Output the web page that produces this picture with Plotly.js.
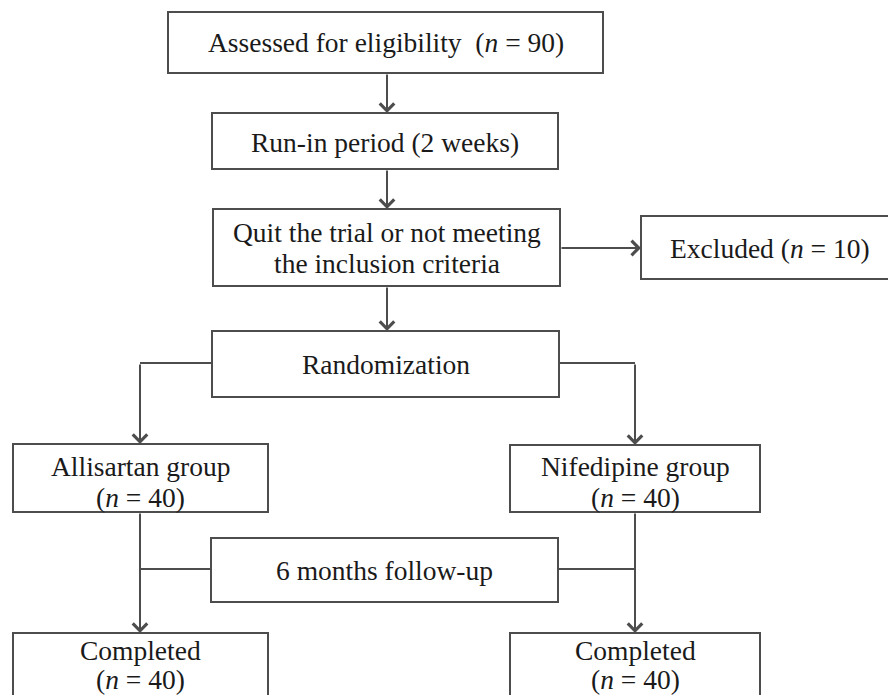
<!DOCTYPE html>
<html><head><meta charset="utf-8">
<script src="https://cdn.plot.ly/plotly-3.0.1.min.js"></script>
<style>html,body{margin:0;padding:0;background:#fff}#chart{width:888px;height:695px}</style>
</head><body><div id="chart"></div><script>
// ---- data ----
const stepLabels = [
  "Assessed for eligibility",
  "Run-in period (2 weeks)",
  "Quit the trial or not meeting\nthe inclusion criteria",
  "Excluded",
  "Randomization",
  "Allisartan group",
  "Nifedipine group",
  "6 months follow-up",
  "Completed",
  "Completed"
];
const stepCounts = [90, null, null, 10, null, 40, 40, null, 40, 40];

// ---- layout (positions in pixel-like data units) ----
const boxGeom = [
  {x0:168, x1:603, y0:12,  y1:73,  ly:[42],       sep:"  ", inline:true},
  {x0:212, x1:558, y0:113, y1:169, ly:[142]},
  {x0:213, x1:560, y0:209, y1:286, ly:[232,263]},
  {x0:641, x1:905, y0:216, y1:279, ly:[248],      sep:" ", inline:true},
  {x0:212, x1:559, y0:331, y1:397, ly:[364]},
  {x0:13,  x1:268, y0:444, y1:512, ly:[466,497]},
  {x0:510, x1:760, y0:445, y1:512, ly:[466,497]},
  {x0:211, x1:558, y0:538, y1:602, ly:[570]},
  {x0:13,  x1:268, y0:633, y1:730, ly:[650,679]},
  {x0:510, x1:760, y0:633, y1:730, ly:[650,679]}
];
const arrows = [
  [387,73,387,113],[387,169,387,209],[560,248,641,248],[387,286,387,331],
  [140,363,140,444],[635,363,635,445],[140,512,140,633],[635,512,635,633]
];
const links = [
  [212,363,140,363],[559,363,635,363],[140,569,211,569],[558,569,635,569]
];

const lineColor = "#4d4d4d";
const font = {family:"Liberation Serif, Times New Roman, serif", size:27.5, color:"#1a1a1a"};

const shapes = [];
const annotations = [];
boxGeom.forEach((b, i) => {
  shapes.push({type:"rect", xref:"x", yref:"y", x0:b.x0, x1:b.x1, y0:b.y0, y1:b.y1,
    line:{color:lineColor, width:2}, fillcolor:"rgba(0,0,0,0)"});
  const lines = stepLabels[i].split("\n");
  if (stepCounts[i] !== null) {
    const c = "(<i>n</i> = " + stepCounts[i] + ")";
    if (b.inline) lines[lines.length-1] += b.sep + c; else lines.push(c);
  }
  const cx = i === 3 ? 770 : (b.x0 + b.x1)/2;
  lines.forEach((t, k) => {
    annotations.push({xref:"x", yref:"y", x:cx, y:b.ly[k], text:t, showarrow:false,
      xanchor:"center", yanchor:"middle", font:font});
  });
});
links.forEach(l => shapes.push({type:"line", xref:"x", yref:"y", x0:l[0], y0:l[1], x1:l[2], y1:l[3],
  line:{color:lineColor, width:2}}));
arrows.forEach(a => annotations.push({xref:"x", yref:"y", axref:"x", ayref:"y",
  ax:a[0], ay:a[1], x:a[2], y:a[3], text:"", showarrow:true, arrowhead:4,
  arrowsize:1.4, arrowwidth:2, arrowcolor:lineColor, standoff:0, startstandoff:0}));

// invisible trace so the axes exist
const data = [{x:[0,888], y:[0,695], mode:"markers", marker:{opacity:0}, hoverinfo:"skip", showlegend:false}];

Plotly.newPlot("chart", data, {
  width:888, height:695,
  margin:{l:0, r:0, t:0, b:0},
  paper_bgcolor:"#fff", plot_bgcolor:"#fff",
  xaxis:{range:[0,888], visible:false, fixedrange:true},
  yaxis:{range:[695,0], visible:false, fixedrange:true},
  shapes:shapes, annotations:annotations, showlegend:false
}, {staticPlot:true});
</script></body></html>
